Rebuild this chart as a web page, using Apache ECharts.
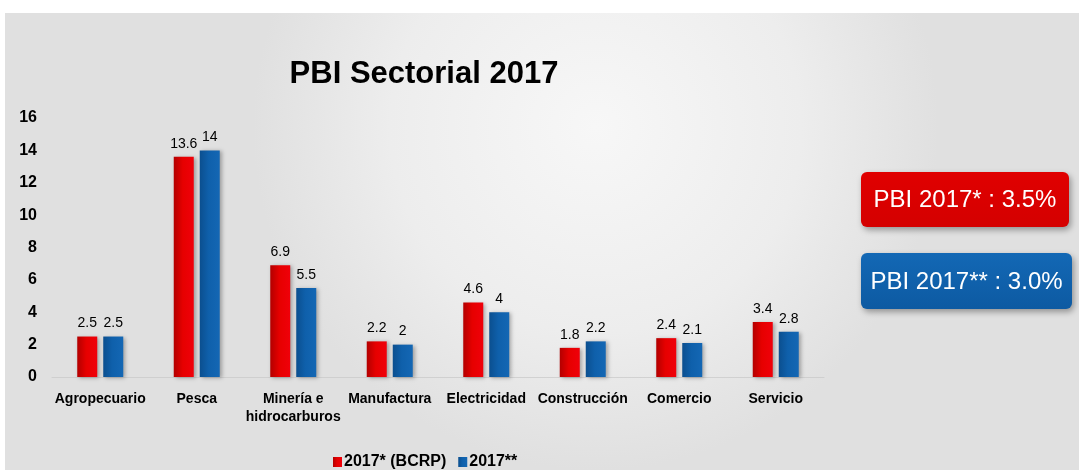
<!DOCTYPE html>
<html>
<head>
<meta charset="utf-8">
<script src="https://cdn.jsdelivr.net/npm/echarts@6/dist/echarts.min.js"></script>
<style>
  html, body { margin: 0; padding: 0; background: #ffffff; }
  #chart { width: 1079px; height: 470px; }
</style>
</head>
<body>
<div id="chart"></div>
<script>
// Sector growth, 2017 (%)
const categories = ['Agropecuario', 'Pesca', 'Minería e\nhidrocarburos', 'Manufactura',
                    'Electricidad', 'Construcción', 'Comercio', 'Servicio'];
const bcrp2017 = [2.5, 13.6, 6.9, 2.2, 4.6, 1.8, 2.4, 3.4];
const est2017 = [2.5, 14, 5.5, 2, 4, 2.2, 2.1, 2.8];
const seriesNames = ['2017* (BCRP)', '2017**'];
const yTicks = { min: 0, max: 16, interval: 2 };
const totals = ['PBI 2017* : 3.5%', 'PBI 2017** : 3.0%'];

const FONT = '"Liberation Sans Narrow", "Liberation Sans", Arial, sans-serif';

const redFill = new echarts.graphic.LinearGradient(0, 0, 1, 0, [
  { offset: 0, color: '#b30000' }, { offset: 0.45, color: '#e60000' }, { offset: 1, color: '#f0000a' }
]);
const blueFill = new echarts.graphic.LinearGradient(0, 0, 1, 0, [
  { offset: 0, color: '#0b4f8f' }, { offset: 0.45, color: '#0f60ab' }, { offset: 1, color: '#1467b4' }
]);

const chart = echarts.init(document.getElementById('chart'));

function box(x, y, w, h, fill, label) {
  return {
    type: 'group',
    children: [
      {
        type: 'rect',
        shape: { x: x, y: y, width: w, height: h, r: 6 },
        style: { fill: fill, shadowBlur: 6, shadowOffsetX: 2, shadowOffsetY: 3, shadowColor: 'rgba(0,0,0,0.35)' }
      },
      {
        type: 'text',
        x: x + w / 2, y: y + h / 2 + 1,
        style: { text: label, fill: '#ffffff', font: '24px ' + FONT, align: 'center', verticalAlign: 'middle' }
      }
    ]
  };
}

chart.setOption({
  animation: false,
  title: {
    text: 'PBI Sectorial 2017',
    left: 419, top: 54, textAlign: 'center',
    textStyle: { fontFamily: FONT, fontWeight: 'bold', fontSize: 31, color: '#000' }
  },
  graphic: [
    {
      type: 'rect', z: -10, silent: true,
      shape: { x: 5, y: 13, width: 1074, height: 457 },
      style: {
        fill: new echarts.graphic.RadialGradient(0.55, 0.25, 0.75, [
          { offset: 0, color: '#f7f7f7' }, { offset: 0.6, color: '#ededed' }, { offset: 1, color: '#e0e0e0' }
        ])
      }
    },
    box(861, 172, 208, 55, new echarts.graphic.LinearGradient(0, 0, 0, 1, [
      { offset: 0, color: '#e00000' }, { offset: 1, color: '#d40000' }
    ]), totals[0]),
    box(861, 253, 211, 56, new echarts.graphic.LinearGradient(0, 0, 0, 1, [
      { offset: 0, color: '#1368b5' }, { offset: 1, color: '#0d5aa2' }
    ]), totals[1])
  ],
  legend: {
    data: seriesNames,
    left: 328, top: 449,
    icon: 'rect', itemWidth: 9, itemHeight: 10, itemGap: 12,
    textStyle: { fontFamily: FONT, fontWeight: 'bold', fontSize: 16, color: '#000', padding: [0, 0, 0, -3] }
  },
  grid: { left: 52, right: 255, top: 118, bottom: 93 },
  xAxis: {
    type: 'category', data: categories,
    axisTick: { show: false },
    axisLine: { lineStyle: { color: 'rgba(200,200,200,0.7)' } },
    axisLabel: {
      interval: 0, margin: 13, lineHeight: 18,
      fontFamily: FONT, fontWeight: 'bold', fontSize: 14, color: '#000'
    }
  },
  yAxis: {
    type: 'value', min: yTicks.min, max: yTicks.max, interval: yTicks.interval,
    splitLine: { show: false }, axisLine: { show: false }, axisTick: { show: false },
    axisLabel: { margin: 15, fontFamily: FONT, fontWeight: 'bold', fontSize: 16, color: '#000' }
  },
  series: [
    {
      name: seriesNames[0], type: 'bar', data: bcrp2017,
      barWidth: 20, barGap: '30%',
      itemStyle: { color: redFill, shadowBlur: 4, shadowOffsetX: 2, shadowOffsetY: 1, shadowColor: 'rgba(0,0,0,0.3)' },
      label: { show: true, position: 'top', distance: 6, fontFamily: FONT, fontSize: 14, color: '#000' }
    },
    {
      name: seriesNames[1], type: 'bar', data: est2017,
      barWidth: 20,
      itemStyle: { color: blueFill, shadowBlur: 4, shadowOffsetX: 2, shadowOffsetY: 1, shadowColor: 'rgba(0,0,0,0.3)' },
      label: { show: true, position: 'top', distance: 6, fontFamily: FONT, fontSize: 14, color: '#000' }
    }
  ]
});
</script>
</body>
</html>
